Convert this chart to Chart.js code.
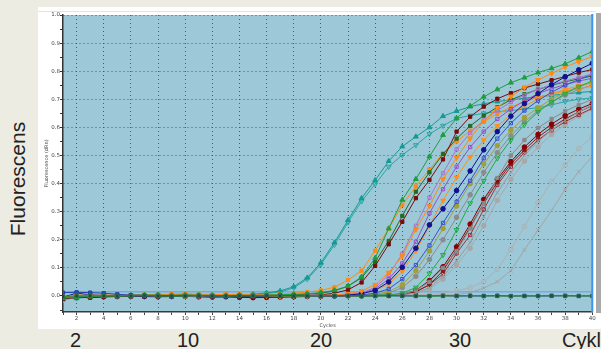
<!DOCTYPE html>
<html><head><meta charset="utf-8">
<script src="https://cdn.jsdelivr.net/npm/chart.js@4.4.1/dist/chart.umd.min.js"></script>
<style>
html,body{margin:0;padding:0;width:601px;height:349px;overflow:hidden;background:#ececE2;}
#panel{position:absolute;left:38px;top:7px;width:563px;height:322px;background:#fff;border-top:0;}
#panelline{position:absolute;left:38px;top:11px;width:558px;height:1px;background:#e4e4e4;}
#wrap{position:absolute;left:38px;top:7px;width:563px;height:322px;}
#edge{position:absolute;left:596px;top:13px;width:5px;height:300px;background:#a9a9a9;}
.big{position:absolute;font-family:"Liberation Sans",Arial,sans-serif;font-size:20px;color:#222;line-height:20px;white-space:nowrap;}
#ylab{position:absolute;left:-47px;top:167px;width:130px;height:24px;line-height:24px;font-size:21px;text-align:center;transform:rotate(-90deg);font-family:"Liberation Sans",Arial,sans-serif;color:#222;}
</style></head>
<body>
<div id="panel"></div>
<div id="panelline"></div>
<div id="wrap"><canvas id="c"></canvas></div>
<div id="edge"></div>
<div id="ylab">Fluorescens</div>
<div class="big" style="left:70px;top:330px;">2</div>
<div class="big" style="left:177px;top:330px;">10</div>
<div class="big" style="left:310px;top:330px;">20</div>
<div class="big" style="left:449px;top:330px;">30</div>
<div class="big" style="left:562px;top:330px;">Cykler</div>
<script>
const cycles = [1,2,3,4,5,6,7,8,9,10,11,12,13,14,15,16,17,18,19,20,21,22,23,24,25,26,27,28,29,30,31,32,33,34,35,36,37,38,39,40];
const THRESHOLD = 0.015;

const tealTri = [-0.005,-0.008,-0.004,-0.002,0.000,0.002,0.003,0.002,0.003,0.004,0.003,0.002,0.003,0.004,0.006,0.011,0.018,0.033,0.065,0.118,0.190,0.270,0.348,0.412,0.480,0.532,0.567,0.600,0.640,0.658,0.674,0.684,0.692,0.698,0.704,0.709,0.714,0.719,0.724,0.728];
const tealOpen = [-0.010,-0.006,-0.003,-0.001,0.001,0.001,0.002,0.003,0.002,0.003,0.004,0.003,0.002,0.004,0.005,0.009,0.014,0.029,0.060,0.112,0.182,0.262,0.337,0.398,0.460,0.502,0.537,0.576,0.606,0.632,0.642,0.650,0.656,0.660,0.665,0.670,0.680,0.692,0.700,0.705];
const orangeSq = [-0.012,-0.003,-0.002,0.001,0.000,0.003,0.002,0.004,0.006,0.008,0.005,0.003,0.004,0.006,0.004,0.005,0.007,0.010,0.014,0.020,0.031,0.057,0.090,0.161,0.240,0.324,0.390,0.450,0.508,0.550,0.588,0.620,0.648,0.672,0.692,0.707,0.719,0.729,0.738,0.747];
const greenTri = [-0.008,-0.004,-0.002,0.000,0.001,0.002,0.004,0.003,0.002,0.004,0.003,0.002,0.001,0.003,0.002,0.003,0.004,0.006,0.008,0.012,0.020,0.035,0.068,0.135,0.240,0.342,0.416,0.496,0.573,0.632,0.676,0.709,0.735,0.759,0.777,0.795,0.810,0.826,0.848,0.870];
const maroonSq = [-0.010,-0.005,-0.006,-0.003,-0.001,0.000,0.001,0.002,0.001,0.003,0.002,0.001,0.000,-0.002,-0.003,-0.004,-0.003,-0.002,0.001,0.004,0.010,0.022,0.048,0.107,0.184,0.264,0.348,0.413,0.486,0.585,0.638,0.674,0.702,0.722,0.740,0.754,0.768,0.781,0.795,0.806];
const darkGreenSq = [-0.006,-0.002,0.000,0.002,0.001,0.003,0.002,0.004,0.003,0.002,0.001,0.003,0.002,0.001,0.000,0.002,0.003,0.004,0.006,0.010,0.018,0.035,0.065,0.122,0.196,0.285,0.371,0.440,0.505,0.560,0.605,0.642,0.672,0.698,0.718,0.735,0.750,0.762,0.773,0.783];
const orangeDown = [-0.004,0.004,0.002,0.003,0.004,0.002,0.005,0.004,0.006,0.007,0.005,0.004,0.006,0.003,0.002,0.000,-0.002,-0.001,0.000,0.002,0.004,0.008,0.018,0.040,0.083,0.142,0.237,0.320,0.416,0.492,0.561,0.623,0.670,0.710,0.742,0.769,0.792,0.815,0.834,0.852];
const orangeDown2 = [-0.015,-0.002,0.000,-0.001,0.001,-0.002,0.000,0.001,0.003,0.002,0.000,-0.001,-0.002,-0.001,0.000,0.001,0.000,0.001,0.002,0.002,0.003,0.005,0.010,0.020,0.042,0.088,0.160,0.250,0.340,0.422,0.495,0.555,0.605,0.645,0.676,0.700,0.720,0.735,0.748,0.760];
const purpleOpen = [-0.009,-0.001,0.001,0.000,-0.001,0.001,0.002,0.000,0.001,0.002,0.001,0.000,0.001,0.002,0.001,0.000,0.001,0.002,0.001,0.002,0.003,0.004,0.010,0.025,0.060,0.116,0.193,0.294,0.380,0.460,0.530,0.585,0.630,0.665,0.695,0.720,0.738,0.752,0.765,0.775];
const purpleOpen2 = [-0.007,0.000,0.002,0.001,0.000,0.002,0.001,0.003,0.002,0.001,0.000,0.002,0.003,0.001,0.000,0.001,0.002,0.001,0.003,0.003,0.004,0.006,0.012,0.030,0.075,0.150,0.250,0.350,0.437,0.522,0.580,0.625,0.660,0.690,0.715,0.735,0.752,0.765,0.778,0.790];
const navyDot = [-0.004,0.010,0.004,0.002,0.001,0.000,-0.001,0.001,0.000,0.002,0.001,0.000,-0.001,0.000,0.001,0.000,0.001,0.000,0.001,0.002,0.002,0.003,0.008,0.020,0.050,0.102,0.170,0.253,0.310,0.375,0.445,0.520,0.585,0.640,0.685,0.720,0.752,0.780,0.805,0.828];
const blueOpen = [-0.011,-0.003,-0.001,0.000,0.001,0.000,0.001,0.000,-0.001,0.001,0.002,0.001,0.000,0.001,0.000,-0.001,0.000,0.001,0.000,0.001,0.001,0.002,0.004,0.010,0.025,0.060,0.110,0.180,0.260,0.335,0.410,0.490,0.560,0.615,0.660,0.695,0.725,0.750,0.770,0.790];
const oliveDot = [-0.006,-0.001,0.000,0.001,0.002,0.001,0.000,0.002,0.001,0.000,0.001,0.002,0.001,0.000,0.001,0.002,0.001,0.000,0.001,0.001,0.002,0.002,0.003,0.006,0.015,0.040,0.090,0.160,0.240,0.320,0.400,0.470,0.535,0.590,0.635,0.670,0.700,0.725,0.745,0.760];
const greyDot = [-0.013,-0.004,-0.002,-0.001,0.000,-0.001,0.000,0.001,0.000,-0.001,0.000,0.001,0.000,-0.001,0.000,0.001,0.000,0.001,0.000,0.001,0.002,0.001,0.002,0.004,0.010,0.030,0.070,0.130,0.200,0.280,0.360,0.440,0.510,0.570,0.620,0.660,0.690,0.715,0.735,0.750];
const greenOpenDown = [-0.008,-0.003,-0.001,0.000,0.001,0.000,0.002,0.001,0.000,0.001,0.002,0.001,0.000,0.001,0.000,0.001,0.000,0.001,0.002,0.001,0.001,0.002,0.002,0.003,0.004,0.010,0.030,0.080,0.146,0.235,0.330,0.410,0.490,0.555,0.610,0.655,0.690,0.720,0.745,0.765];
const maroonDot = [-0.012,-0.006,-0.004,-0.003,-0.002,-0.001,-0.002,-0.003,-0.002,-0.001,-0.003,-0.004,-0.003,-0.005,-0.006,-0.005,-0.004,-0.003,-0.002,-0.001,0.000,0.001,0.001,0.002,0.002,0.005,0.020,0.055,0.104,0.175,0.256,0.344,0.415,0.478,0.530,0.575,0.612,0.642,0.665,0.685];
const maroonOpen = [-0.010,-0.004,-0.003,-0.002,-0.001,-0.002,-0.001,0.000,-0.001,-0.002,-0.001,-0.002,-0.003,-0.002,-0.004,-0.003,-0.002,-0.001,0.000,0.000,0.001,0.001,0.002,0.002,0.003,0.004,0.015,0.040,0.078,0.152,0.217,0.308,0.395,0.460,0.510,0.555,0.590,0.620,0.645,0.668];
const greyCross = [-0.009,-0.002,0.000,0.001,0.000,0.001,0.000,-0.001,0.000,0.001,0.000,-0.001,0.000,0.001,0.000,-0.001,0.000,0.001,0.000,0.001,0.001,0.002,0.002,0.003,0.003,0.005,0.010,0.030,0.070,0.125,0.190,0.282,0.368,0.440,0.500,0.550,0.590,0.625,0.655,0.680];
const lightGreyDot = [-0.007,-0.001,0.001,0.000,0.001,0.000,0.001,0.000,0.001,0.000,0.001,0.000,0.000,0.001,0.000,0.001,0.000,0.000,0.001,0.000,0.001,0.001,0.002,0.002,0.003,0.004,0.008,0.025,0.060,0.110,0.170,0.250,0.340,0.415,0.480,0.530,0.575,0.610,0.640,0.665];
const greySq = [-0.010,-0.003,-0.001,0.000,0.000,0.001,0.000,0.001,0.000,0.000,0.001,0.000,0.001,0.000,0.000,0.001,0.000,0.001,0.001,0.001,0.002,0.002,0.002,0.003,0.004,0.006,0.020,0.050,0.100,0.160,0.240,0.330,0.420,0.500,0.555,0.598,0.630,0.658,0.680,0.700];
const darkRedSq = [-0.011,-0.005,-0.004,-0.002,-0.002,-0.001,-0.002,-0.001,-0.002,-0.001,-0.002,-0.003,-0.002,-0.003,-0.004,-0.003,-0.003,-0.002,-0.001,0.000,0.000,0.001,0.001,0.002,0.002,0.005,0.015,0.040,0.090,0.165,0.245,0.330,0.405,0.470,0.520,0.565,0.600,0.630,0.655,0.678];
const lateGreyCircle = [-0.006,-0.001,0.000,0.001,0.000,0.001,0.000,0.000,0.001,0.000,0.000,0.001,0.000,0.000,0.001,0.000,0.000,0.001,0.000,0.001,0.001,0.001,0.002,0.002,0.002,0.003,0.003,0.004,0.010,0.018,0.030,0.051,0.095,0.166,0.247,0.332,0.407,0.466,0.525,0.567];
const lateGreyCross = [-0.005,0.000,0.001,0.000,0.001,0.000,0.000,0.001,0.000,0.000,0.001,0.000,0.000,0.001,0.000,0.000,0.001,0.000,0.000,0.001,0.001,0.001,0.001,0.002,0.002,0.002,0.003,0.003,0.003,0.005,0.012,0.028,0.051,0.090,0.164,0.235,0.304,0.380,0.442,0.496];
const negGreen = [-0.002,0.000,0.001,0.000,-0.001,0.000,0.001,0.000,-0.001,0.000,0.001,0.000,-0.001,0.000,0.000,0.001,0.000,-0.001,0.000,0.000,0.001,0.000,-0.001,0.000,0.000,0.001,0.000,-0.001,0.000,0.000,0.001,0.000,0.000,-0.001,0.000,0.000,0.001,0.000,0.000,0.000];
const negBlue = [0.012,0.013,0.012,0.010,0.006,0.003,0.002,0.001,0.000,0.000,0.001,0.000,0.000,0.001,0.000,0.000,0.000,0.001,0.000,0.000,0.000,0.001,0.000,0.000,0.001,0.000,0.000,0.000,0.001,0.000,0.000,0.000,0.001,0.000,0.000,0.000,0.000,0.001,0.000,0.000];

// marker styles (not data)
const series = [
  {d: negGreen, c:'#2e8b2e', p:'rect', mfill:'#1d4a3a', mb:'#2e6e4e'},
  {d: negBlue, c:'#2040b0', p:'rect', mfill:'#1f5fb0'},
  {d: greenTri, c:'#1e9e3e', p:'triangle', r:2.8},
  {d: orangeDown, c:'#ff8a14', p:'triangle', rot:180, r:2.8},
  {d: navyDot, c:'#101090', p:'circle'},
  {d: maroonSq, c:'#7a0a0a', p:'rect'},
  {d: purpleOpen2, c:'#b070d0', p:'rect', open:true},
  {d: blueOpen, c:'#3a50d0', p:'rect', open:true},
  {d: darkGreenSq, c:'#236b23', p:'rect'},
  {d: purpleOpen, c:'#9a4fc8', p:'rect', open:true},
  {d: greenOpenDown, c:'#22aa44', p:'triangle', rot:180, r:2.8, open:true},
  {d: orangeDown2, c:'#ff9020', p:'triangle', rot:180, r:2.8},
  {d: oliveDot, c:'#a0a038', p:'circle'},
  {d: orangeSq, c:'#ff8a14', p:'rect'},
  {d: greyDot, c:'#8c8c8c', p:'circle'},
  {d: tealTri, c:'#159a96', p:'triangle', r:2.8},
  {d: tealOpen, c:'#2aa6a2', p:'triangle', rot:180, r:2.8, open:true},
  {d: greySq, c:'#8a8a8a', p:'rect'},
  {d: greyCross, c:'#999999', p:'crossRot', r:2.6},
  {d: maroonDot, c:'#8a0000', p:'circle'},
  {d: darkRedSq, c:'#8b1c1c', p:'rect'},
  {d: maroonOpen, c:'#a03030', p:'rect', open:true},
  {d: lightGreyDot, c:'#a8a8a8', p:'circle'},
  {d: lateGreyCircle, c:'#b0b0b0', p:'circle', open:true},
  {d: lateGreyCross, c:'#a4a4a4', p:'crossRot', r:2.6}
];

const datasets = series.map((s,i)=>({
  label: 'S'+(i+1),
  data: s.d,
  borderColor: s.c,
  borderWidth: 1,
  backgroundColor: s.c,
  pointStyle: s.p,
  pointRotation: s.rot || 0,
  pointRadius: s.r || 2.3,
  pointBorderWidth: 1,
  pointBorderColor: s.mb || s.c,
  pointBackgroundColor: s.open ? 'rgba(0,0,0,0)' : (s.mfill || s.c),
  tension: 0,
  fill: false
}));

const GRID = 'rgba(55,75,95,0.85)';
const NONE = 'rgba(0,0,0,0)';
const isMajorY = v => Math.abs(Math.round(v*20)) % 2 === 0;
const isEvenX = v => Math.round(v) % 2 === 0;

const deco = {
  id:'deco',
  beforeDraw(chart){
    const {ctx, chartArea:a} = chart;
    ctx.save();
    ctx.fillStyle = '#9cc8d8';
    ctx.fillRect(a.left, a.top, a.right-a.left, a.bottom-a.top);
    ctx.restore();
  },
  beforeDatasetsDraw(chart){
    const {ctx, chartArea:a, scales} = chart;
    const y = scales.y.getPixelForValue(THRESHOLD);
    ctx.save();
    ctx.strokeStyle = '#78a8e6';
    ctx.lineWidth = 1.5;
    ctx.beginPath(); ctx.moveTo(a.left, y); ctx.lineTo(a.right, y); ctx.stroke();
    ctx.restore();
  },
  afterDraw(chart){
    const {ctx, chartArea:a, scales} = chart;
    const x = scales.x.getPixelForValue(cycles[cycles.length-1]);
    ctx.save();
    ctx.strokeStyle = '#3d95ef';
    ctx.lineWidth = 2;
    ctx.beginPath(); ctx.moveTo(x, a.top-1); ctx.lineTo(x, a.bottom); ctx.stroke();
    ctx.restore();
  }
};

new Chart(document.getElementById('c'), {
  type:'line',
  data:{labels: cycles, datasets},
  options:{
    responsive:true, maintainAspectRatio:false, animation:false,
    layout:{padding:{top:8, right:8.7, left:0, bottom:0}},
    plugins:{legend:{display:false}, tooltip:{enabled:false}},
    scales:{
      x:{
        type:'linear', min:1, max:40,
        afterFit(s){ s.height = 17; },
        ticks:{stepSize:1, autoSkip:false, maxRotation:0, padding:0,
          color:'#444', font:{size:5.5, family:'"DejaVu Sans", sans-serif'},
          callback:v => (isEvenX(v) ? String(v) : '')},
        grid:{color: ctx => (ctx.tick && isEvenX(ctx.tick.value) && ctx.tick.value < 40) ? GRID : NONE,
              tickColor:'#444', tickLength:3, lineWidth:1},
        border:{display:true, color:'#3a3a3a', width:1.5, dash:[1,3]},
        title:{display:true, text:'Cycles', color:'#444', padding:{top:0,bottom:0},
          font:{size:5, family:'"DejaVu Sans", sans-serif'}}
      },
      y:{
        min:-0.057, max:1.0,
        afterFit(s){ s.width = 25; },
        ticks:{stepSize:0.05, includeBounds:false, padding:0,
          color:'#444', font:{size:5.5, family:'"DejaVu Sans", sans-serif'},
          callback:v => (isMajorY(v) ? v.toFixed(1) : '')},
        grid:{color: ctx => (ctx.tick && isMajorY(ctx.tick.value)) ? GRID : NONE,
              tickColor:'#333', tickLength:3, lineWidth:1},
        border:{display:true, color:'#333', width:1.5, dash:[1,3]},
        title:{display:true, text:'Fluorescence (dRn)', color:'#444', padding:{top:6,bottom:0},
          font:{size:5, family:'"DejaVu Sans", sans-serif'}}
      }
    }
  },
  plugins:[deco]
});
</script>
</body></html>
